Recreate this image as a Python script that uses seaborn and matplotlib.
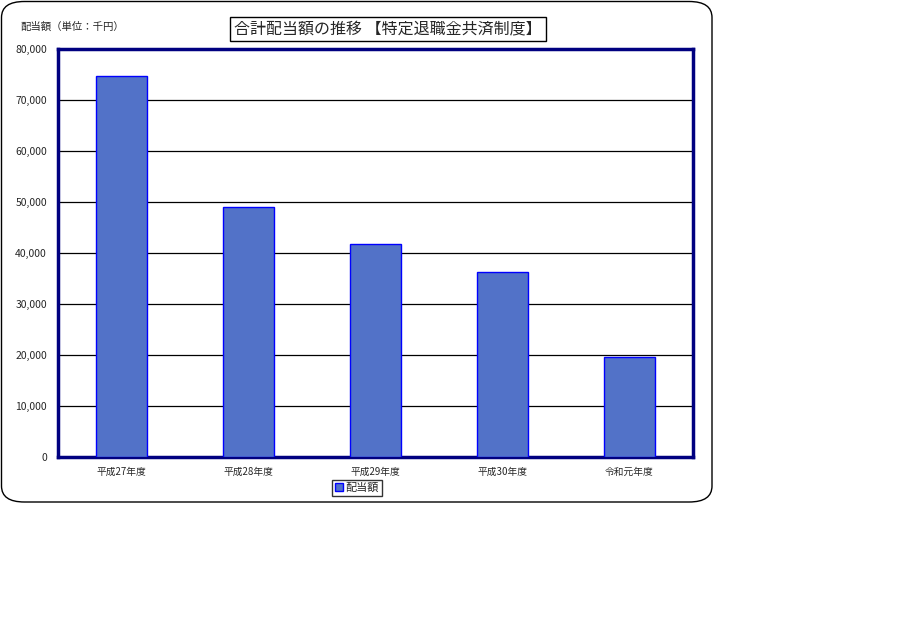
import matplotlib
matplotlib.use("Agg")
import matplotlib.pyplot as plt
import seaborn as sns
import pandas as pd
from matplotlib.patches import FancyBboxPatch, Patch

categories = ["平成27年度", "平成28年度", "平成29年度", "平成30年度", "令和元年度"]
values = [74700, 49100, 41700, 36300, 19600]
series_name = "配当額"
yticks = [0, 10000, 20000, 30000, 40000, 50000, 60000, 70000, 80000]

sns.set_theme(style="white")
plt.rcParams['font.family'] = ['Noto Sans CJK JP', 'DejaVu Sans']

df = pd.DataFrame({"category": categories, "value": values, "series": series_name})

fig = plt.figure(figsize=(9.14, 6.4), dpi=100)
fig.patch.set_facecolor("white")

# outer rounded frame
frame = FancyBboxPatch((1.5/914, (640-502)/640), (712-1.5)/914, (502-1.5)/640,
                       boxstyle="round,pad=0,rounding_size=0.025",
                       transform=fig.transFigure, facecolor="none",
                       edgecolor="black", linewidth=1.0, zorder=-1)
fig.patches.append(frame)

ax = fig.add_axes([58/914, 183/640, 635/914, 408/640])
ax.set_facecolor("white")
sns.barplot(data=df, x="category", y="value", ax=ax, color="#5272C8",
            width=0.4, edgecolor="#0000FF", linewidth=1.0, saturation=1,
            zorder=3)

ax.set_ylim(0, 80000)
ax.set_xlim(-0.5, len(categories) - 0.5)
ax.set_yticks(yticks)
ax.set_yticklabels([f"{v:,}" for v in yticks], fontsize=7.5)
ax.yaxis.grid(True, color="black", linewidth=0.9)
ax.set_axisbelow(True)
ax.set_xlabel("")
ax.set_ylabel("")
ax.tick_params(axis="y", length=0, pad=8)
ax.set_xticks(range(len(categories)))
ax.set_xticklabels(categories, fontsize=7)
ax.tick_params(axis="x", length=3, direction="out", pad=4, color="black")
ax.set_xticks([i + 0.5 for i in range(len(categories) - 1)], minor=True)
ax.tick_params(axis="x", which="minor", length=3, direction="in", color="black")
for s in ax.spines.values():
    s.set_color("#000080")
    s.set_linewidth(2.5)
    s.set_visible(True)

fig.text(20/914, 1 - 27/640, "配当額（単位：千円）", fontsize=7.5, ha="left", va="center")

fig.text(388/914, 1 - 29/640, "合計配当額の推移 【特定退職金共済制度】", fontsize=11.5,
         ha="center", va="center",
         bbox=dict(boxstyle="square,pad=0.25", facecolor="white", edgecolor="black", linewidth=1.0))

handles = [Patch(facecolor="#5272C8", edgecolor="#0000FF", label=series_name)]
leg = fig.legend(handles=handles, loc="center", bbox_to_anchor=(357/914, 1 - 488/640),
                 fontsize=8, frameon=True, fancybox=False, handlelength=0.7, handleheight=0.7,
                 handletextpad=0.2, borderpad=0.3, borderaxespad=0)
leg.get_frame().set_edgecolor("black")
leg.get_frame().set_linewidth(1.0)

fig.savefig("out.png", dpi=100)
